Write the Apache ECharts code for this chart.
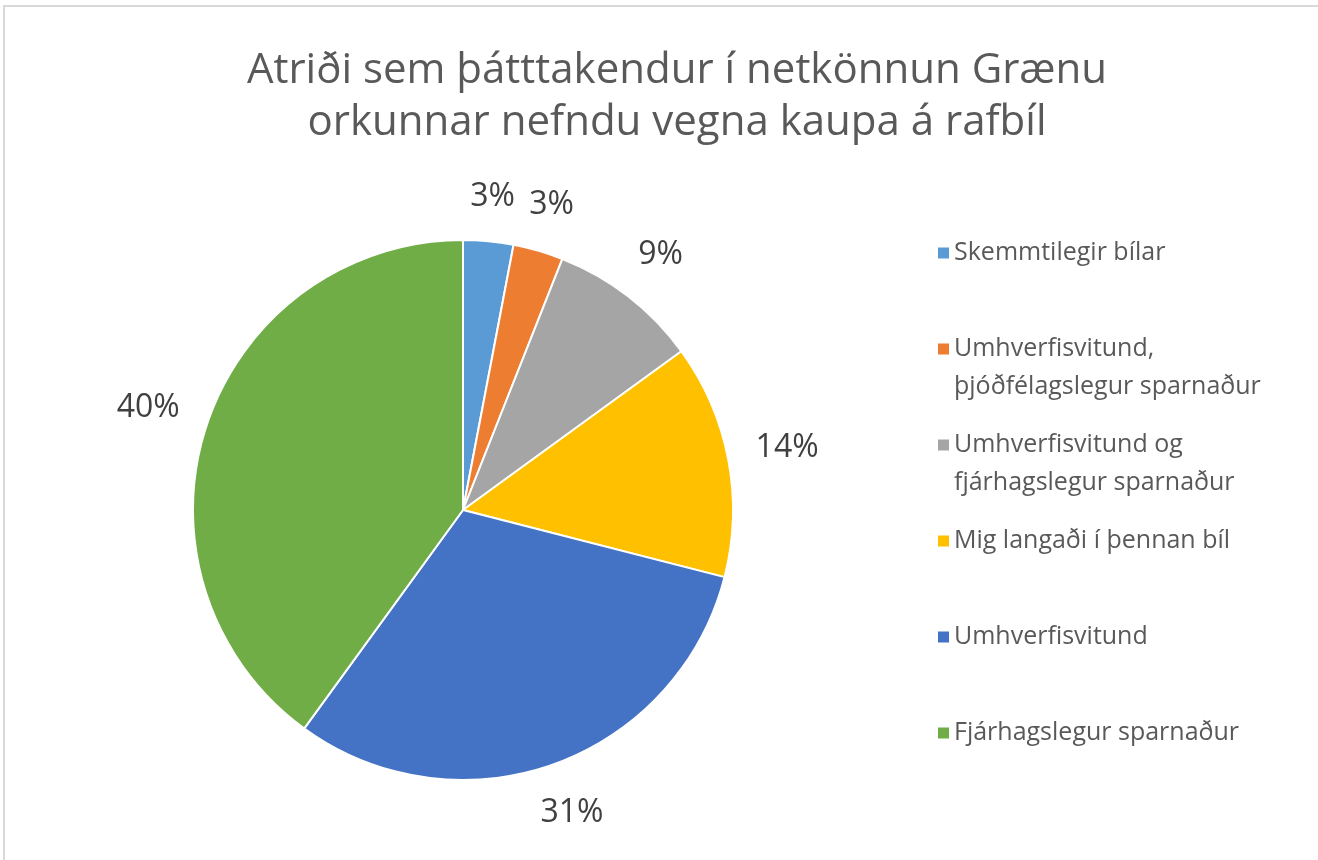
<!DOCTYPE html>
<html>
<head>
<meta charset="utf-8">
<title>Rafbíll</title>
<script src="https://cdn.jsdelivr.net/npm/echarts@6/dist/echarts.min.js"></script>
<style>
  html, body { margin: 0; padding: 0; background: #fff; }
  #frame { position: absolute; left: 3px; top: 5px; width: 1400px; height: 900px;
           border-top: 2px solid #d9d9d9; border-left: 2px solid #d9d9d9; }
  #main { position: absolute; left: 0; top: 0; width: 1318px; height: 860px; }
</style>
</head>
<body>
<div id="frame"></div>
<div id="main"></div>
<script>
// gögn lesin af myndinni
var categories = [
  'Skemmtilegir bílar',
  'Umhverfisvitund,\nþjóðfélagslegur sparnaður',
  'Umhverfisvitund og\nfjárhagslegur sparnaður',
  'Mig langaði í þennan bíl',
  'Umhverfisvitund',
  'Fjárhagslegur sparnaður'
];
var percents = [3, 3, 9, 14, 31, 40];
var colors = ['#5B9BD5', '#ED7D31', '#A5A5A5', '#FFC000', '#4472C4', '#70AD47'];

var FONT = '"Open Sans", sans-serif';
var LABEL_GAP = 26;

var myChart = echarts.init(document.getElementById('main'));

var pieData = categories.map(function (name, i) {
  return { name: name, value: percents[i] };
});

var option = {
  animation: false,
  color: colors,
  title: {
    text: 'Atriði sem þátttakendur í netkönnun Grænu\norkunnar nefndu vegna kaupa á rafbíl',
    left: 672,
    top: 40,
    textAlign: 'center',
    textStyle: {
      fontFamily: FONT,
      fontSize: 42,
      fontWeight: 'normal',
      color: '#595959',
      lineHeight: 52
    }
  },
  legend: {
    orient: 'vertical',
    left: 933,
    top: 229,
    itemGap: 20,
    itemWidth: 11,
    itemHeight: 76,
    // ferningur efst í reitnum svo hann standi við fyrstu línu textans
    icon: 'path://M0,13.5H11V24.5H0Z M0,0V76',
    itemStyle: { borderWidth: 0 },
    // allar færslur fá tvær línur svo bilið verði jafnt
    formatter: function (name) {
      return name.indexOf('\n') < 0 ? name + '\n ' : name;
    },
    textStyle: {
      fontFamily: FONT,
      fontSize: 25,
      color: '#595959',
      lineHeight: 38
    },
    data: categories
  },
  series: [
    {
      type: 'pie',
      center: [463, 510],
      radius: 270,
      startAngle: 90,
      clockwise: true,
      avoidLabelOverlap: false,
      itemStyle: { borderColor: '#fff', borderWidth: 2 },
      label: {
        show: true,
        position: 'outside',
        formatter: '{c}%',
        fontFamily: FONT,
        fontSize: 32,
        color: '#404040'
      },
      labelLine: { show: true, length: 10, length2: 0, lineStyle: { opacity: 0 } },
      labelLayout: function (params) {
        var pts = params.labelLinePoints;
        if (!pts) return {};
        var dx = pts[1][0] - pts[0][0];
        var dy = pts[1][1] - pts[0][1];
        var len = Math.sqrt(dx * dx + dy * dy) || 1;
        dx /= len; dy /= len;
        var w = params.labelRect.width, h = params.labelRect.height;
        var off = LABEL_GAP + Math.abs(dx) * w / 2 + Math.abs(dy) * h / 2;
        return {
          x: pts[0][0] + dx * off,
          y: pts[0][1] + dy * off,
          align: 'center',
          verticalAlign: 'middle'
        };
      },
      emphasis: { disabled: true },
      data: pieData
    }
  ]
};

myChart.setOption(option);
</script>
</body>
</html>
